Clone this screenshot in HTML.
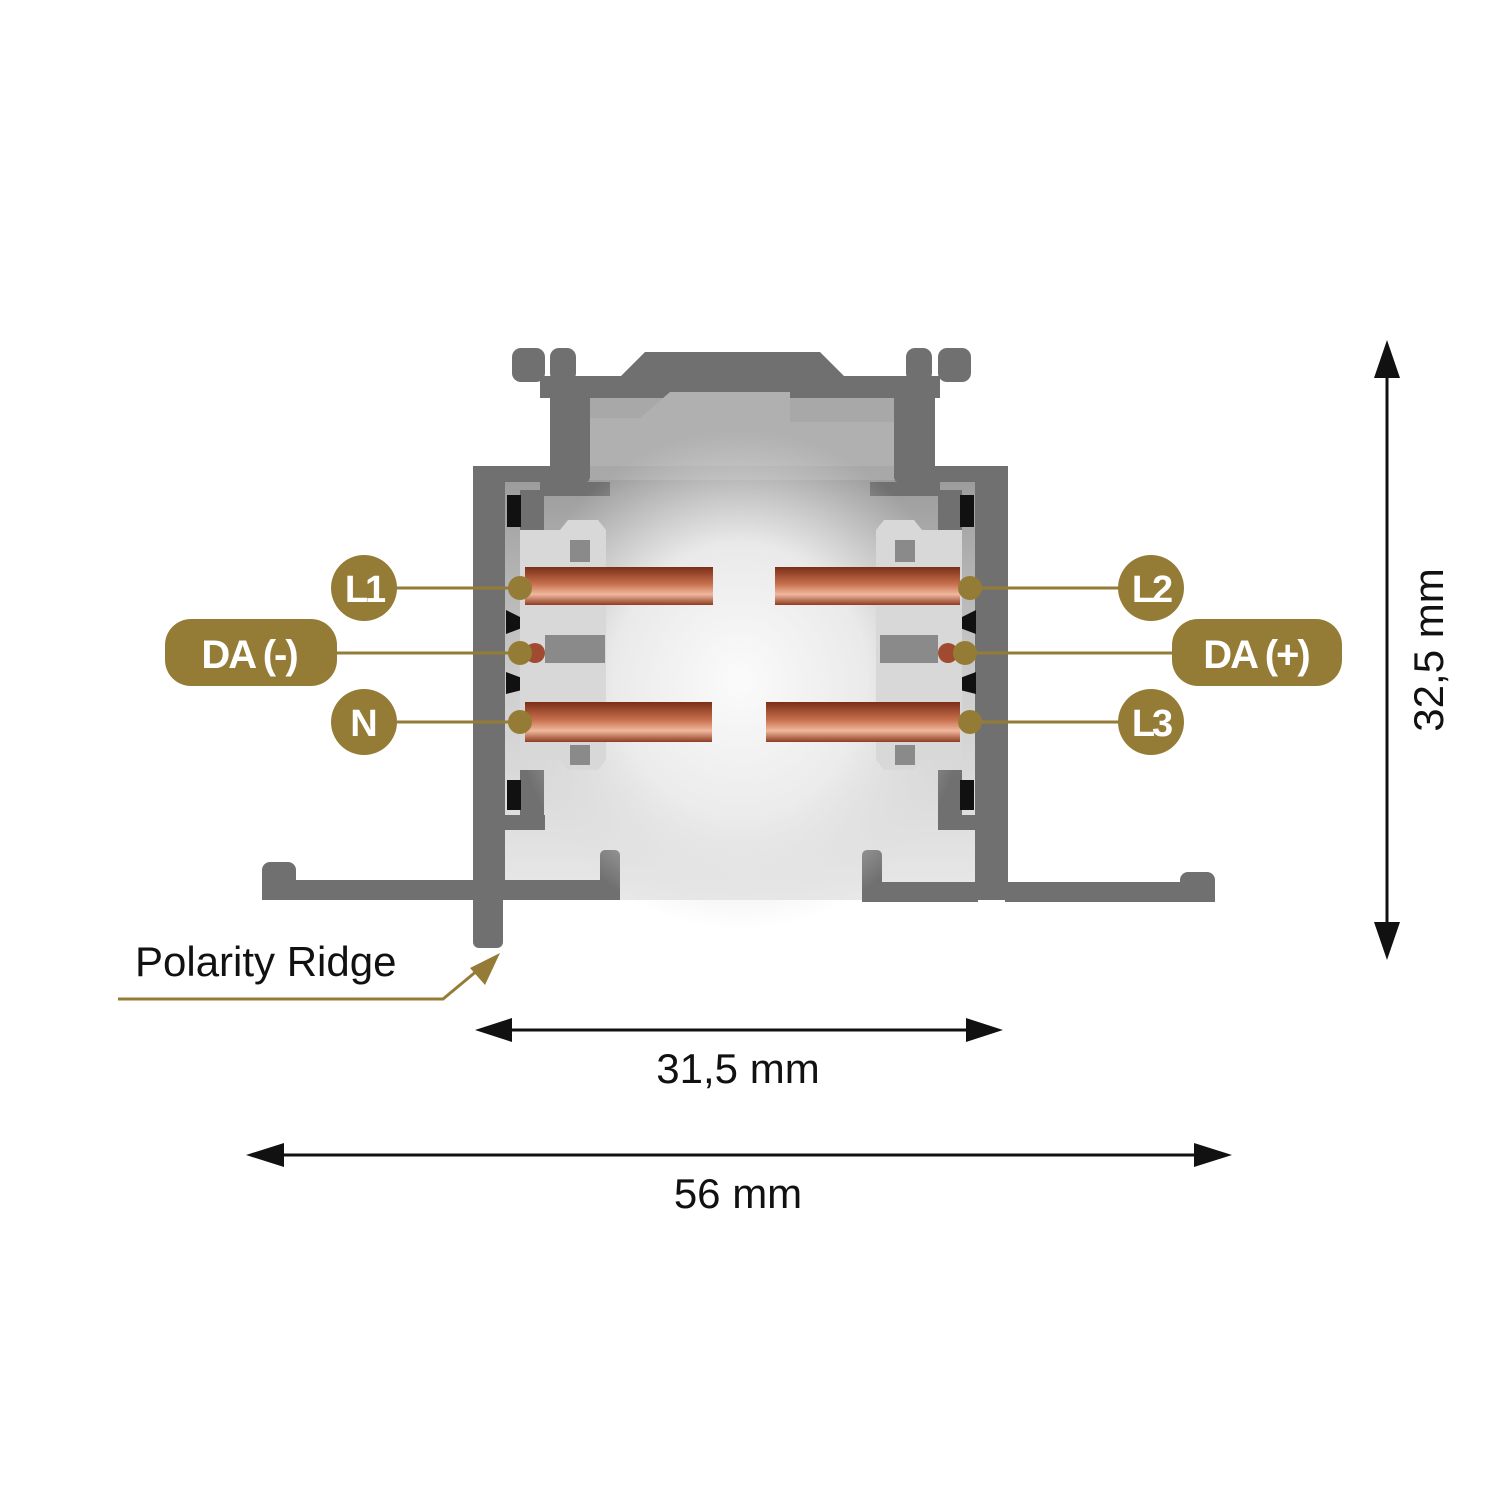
<!DOCTYPE html>
<html><head><meta charset="utf-8"><style>
html,body{margin:0;padding:0;background:#fff;}
svg{display:block;}
.t{font-family:"Liberation Sans",sans-serif;}
</style></head><body>
<svg width="1500" height="1500" viewBox="0 0 1500 1500" xmlns="http://www.w3.org/2000/svg">
<defs>
<radialGradient id="fog" cx="0.5" cy="0.5" r="0.5">
<stop offset="0" stop-color="#fbfbfb"/><stop offset="0.55" stop-color="#ececec" stop-opacity="0.95"/><stop offset="1" stop-color="#dcdcdc" stop-opacity="0"/>
</radialGradient>
<linearGradient id="cu" x1="0" y1="0" x2="0" y2="1">
<stop offset="0" stop-color="#7a2e18"/><stop offset="0.45" stop-color="#c8704e"/><stop offset="0.72" stop-color="#f0b89e"/><stop offset="1" stop-color="#8e3c22"/>
</linearGradient>
<linearGradient id="cav" x1="0" y1="0" x2="0" y2="1">
<stop offset="0" stop-color="#9c9c9c"/><stop offset="0.5" stop-color="#cfcfcf"/><stop offset="1" stop-color="#e8e8e8"/>
</linearGradient>
</defs>

<!-- cavity fill -->
<rect x="590" y="390" width="304" height="100" fill="#a8a8a8"/>
<rect x="505" y="480" width="470" height="420" fill="url(#cav)"/>

<g fill="#707070">
<rect x="512" y="348" width="33" height="34" rx="9"/>
<rect x="550" y="348" width="26" height="34" rx="9"/>
<rect x="906" y="348" width="26" height="34" rx="9"/>
<rect x="938" y="348" width="33" height="34" rx="9"/>
<rect x="540" y="376" width="400" height="22"/>
<polygon points="615,382 645,352 820,352 850,382"/>
<rect x="550" y="378" width="40" height="95"/>
<rect x="894" y="378" width="41" height="95"/>
<rect x="473" y="466" width="117" height="16" rx="4"/>
<rect x="894" y="466" width="114" height="16" rx="4"/>
<rect x="473" y="466" width="32" height="434"/>
<rect x="975" y="466" width="33" height="434"/>
<rect x="540" y="482" width="70" height="14"/>
<rect x="870" y="482" width="70" height="14"/>
<rect x="520" y="490" width="24" height="40"/>
<rect x="938" y="490" width="24" height="40"/>
<rect x="520" y="770" width="24" height="50"/>
<rect x="938" y="770" width="24" height="50"/>
<rect x="505" y="815" width="40" height="15"/>
<rect x="938" y="815" width="40" height="15"/>
<rect x="497" y="880" width="123" height="20"/>
<rect x="600" y="850" width="20" height="50" rx="5"/>
<rect x="862" y="850" width="20" height="50" rx="5"/>
<rect x="862" y="882" width="116" height="20"/>
<rect x="262" y="862" width="34" height="38" rx="8"/>
<rect x="262" y="880" width="215" height="20"/>
<rect x="1180" y="872" width="35" height="30" rx="8"/>
<rect x="1005" y="882" width="210" height="20"/>
<rect x="473" y="880" width="30" height="68" rx="6"/>
</g>
<polygon points="590,418 640,418 670,392 790,392 790,422 894,422 894,466 590,466" fill="#b0b0b0"/>
<ellipse cx="740" cy="680" rx="230" ry="250" fill="url(#fog)"/>

<g fill="#111">
<rect x="507" y="495" width="14" height="32"/><rect x="507" y="780" width="14" height="30"/>
<rect x="960" y="495" width="14" height="32"/><rect x="960" y="780" width="14" height="30"/>
<polygon points="506,610 522,618 522,628 506,634"/><polygon points="506,672 522,678 522,690 506,694"/>
<polygon points="976,610 960,618 960,628 976,634"/><polygon points="976,672 960,678 960,690 976,694"/>
</g>
<g fill="#d8d8d8">
<path d="M520,530 h40 l8,-10 h30 l8,10 v230 l-8,10 h-30 l-8,-10 h-40 z"/>
<path d="M962,530 h-40 l-8,-10 h-30 l-8,10 v230 l8,10 h30 l8,-10 h40 z"/>
</g>
<g fill="#8a8a8a"><rect x="545" y="635" width="60" height="28"/><rect x="880" y="635" width="58" height="28"/>
<rect x="570" y="540" width="20" height="22"/><rect x="570" y="745" width="20" height="20"/>
<rect x="895" y="540" width="20" height="22"/><rect x="895" y="745" width="20" height="20"/></g>
<rect x="525" y="567" width="188" height="38" fill="url(#cu)"/>
<rect x="775" y="567" width="185" height="38" fill="url(#cu)"/>
<rect x="525" y="702" width="187" height="40" fill="url(#cu)"/>
<rect x="766" y="702" width="194" height="40" fill="url(#cu)"/>
<circle cx="535" cy="653" r="10" fill="#a04a30"/><circle cx="948" cy="653" r="10" fill="#a04a30"/>

<g fill="#957c36" stroke="#957c36">
<line x1="364" y1="588" x2="520" y2="588" stroke-width="3"/>
<line x1="300" y1="653" x2="520" y2="653" stroke-width="3"/>
<line x1="364" y1="722" x2="520" y2="722" stroke-width="3"/>
<line x1="970" y1="588" x2="1151" y2="588" stroke-width="3"/>
<line x1="965" y1="653" x2="1200" y2="653" stroke-width="3"/>
<line x1="970" y1="722" x2="1151" y2="722" stroke-width="3"/>
<g stroke="none">
<circle cx="520" cy="588" r="12"/><circle cx="520" cy="653" r="12"/><circle cx="520" cy="722" r="12"/>
<circle cx="970" cy="588" r="12"/><circle cx="965" cy="653" r="12"/><circle cx="970" cy="722" r="12"/>
<circle cx="364" cy="588" r="33"/><circle cx="364" cy="722" r="33"/>
<circle cx="1151" cy="588" r="33"/><circle cx="1151" cy="722" r="33"/>
<rect x="165" y="619" width="172" height="67" rx="26"/>
<rect x="1172" y="619" width="170" height="67" rx="26"/>
</g>
<polyline points="118,999 443,999 490,960" fill="none" stroke-width="3"/>
<polygon points="500,953 470,968 485,985" stroke="none"/>
</g>
<g class="t" fill="#fff" font-weight="bold" font-size="38" text-anchor="middle">
<text x="364" y="602" letter-spacing="-3">L1</text>
<text x="364" y="736">N</text>
<text x="1151" y="602" letter-spacing="-3">L2</text>
<text x="1151" y="736" letter-spacing="-3">L3</text>
<text x="249" y="668" font-size="40" letter-spacing="-2">DA (-)</text>
<text x="1256" y="668" font-size="40" letter-spacing="-2">DA (+)</text>
</g>

<g stroke="#111" stroke-width="3" fill="#111">
<line x1="1387" y1="370" x2="1387" y2="930"/>
<polygon points="1387,340 1374,378 1400,378" stroke="none"/>
<polygon points="1387,960 1374,922 1400,922" stroke="none"/>
<line x1="500" y1="1030" x2="980" y2="1030"/>
<polygon points="475,1030 512,1018 512,1042" stroke="none"/>
<polygon points="1003,1030 966,1018 966,1042" stroke="none"/>
<line x1="270" y1="1155" x2="1210" y2="1155"/>
<polygon points="246,1155 284,1143 284,1167" stroke="none"/>
<polygon points="1232,1155 1194,1143 1194,1167" stroke="none"/>
</g>
<g class="t" fill="#111" font-size="42">
<text x="738" y="1083" text-anchor="middle">31,5 mm</text>
<text x="738" y="1208" text-anchor="middle">56 mm</text>
<text x="135" y="976">Polarity Ridge</text>
<text transform="translate(1443,650) rotate(-90)" text-anchor="middle">32,5 mm</text>
</g>
</svg>
</body></html>
